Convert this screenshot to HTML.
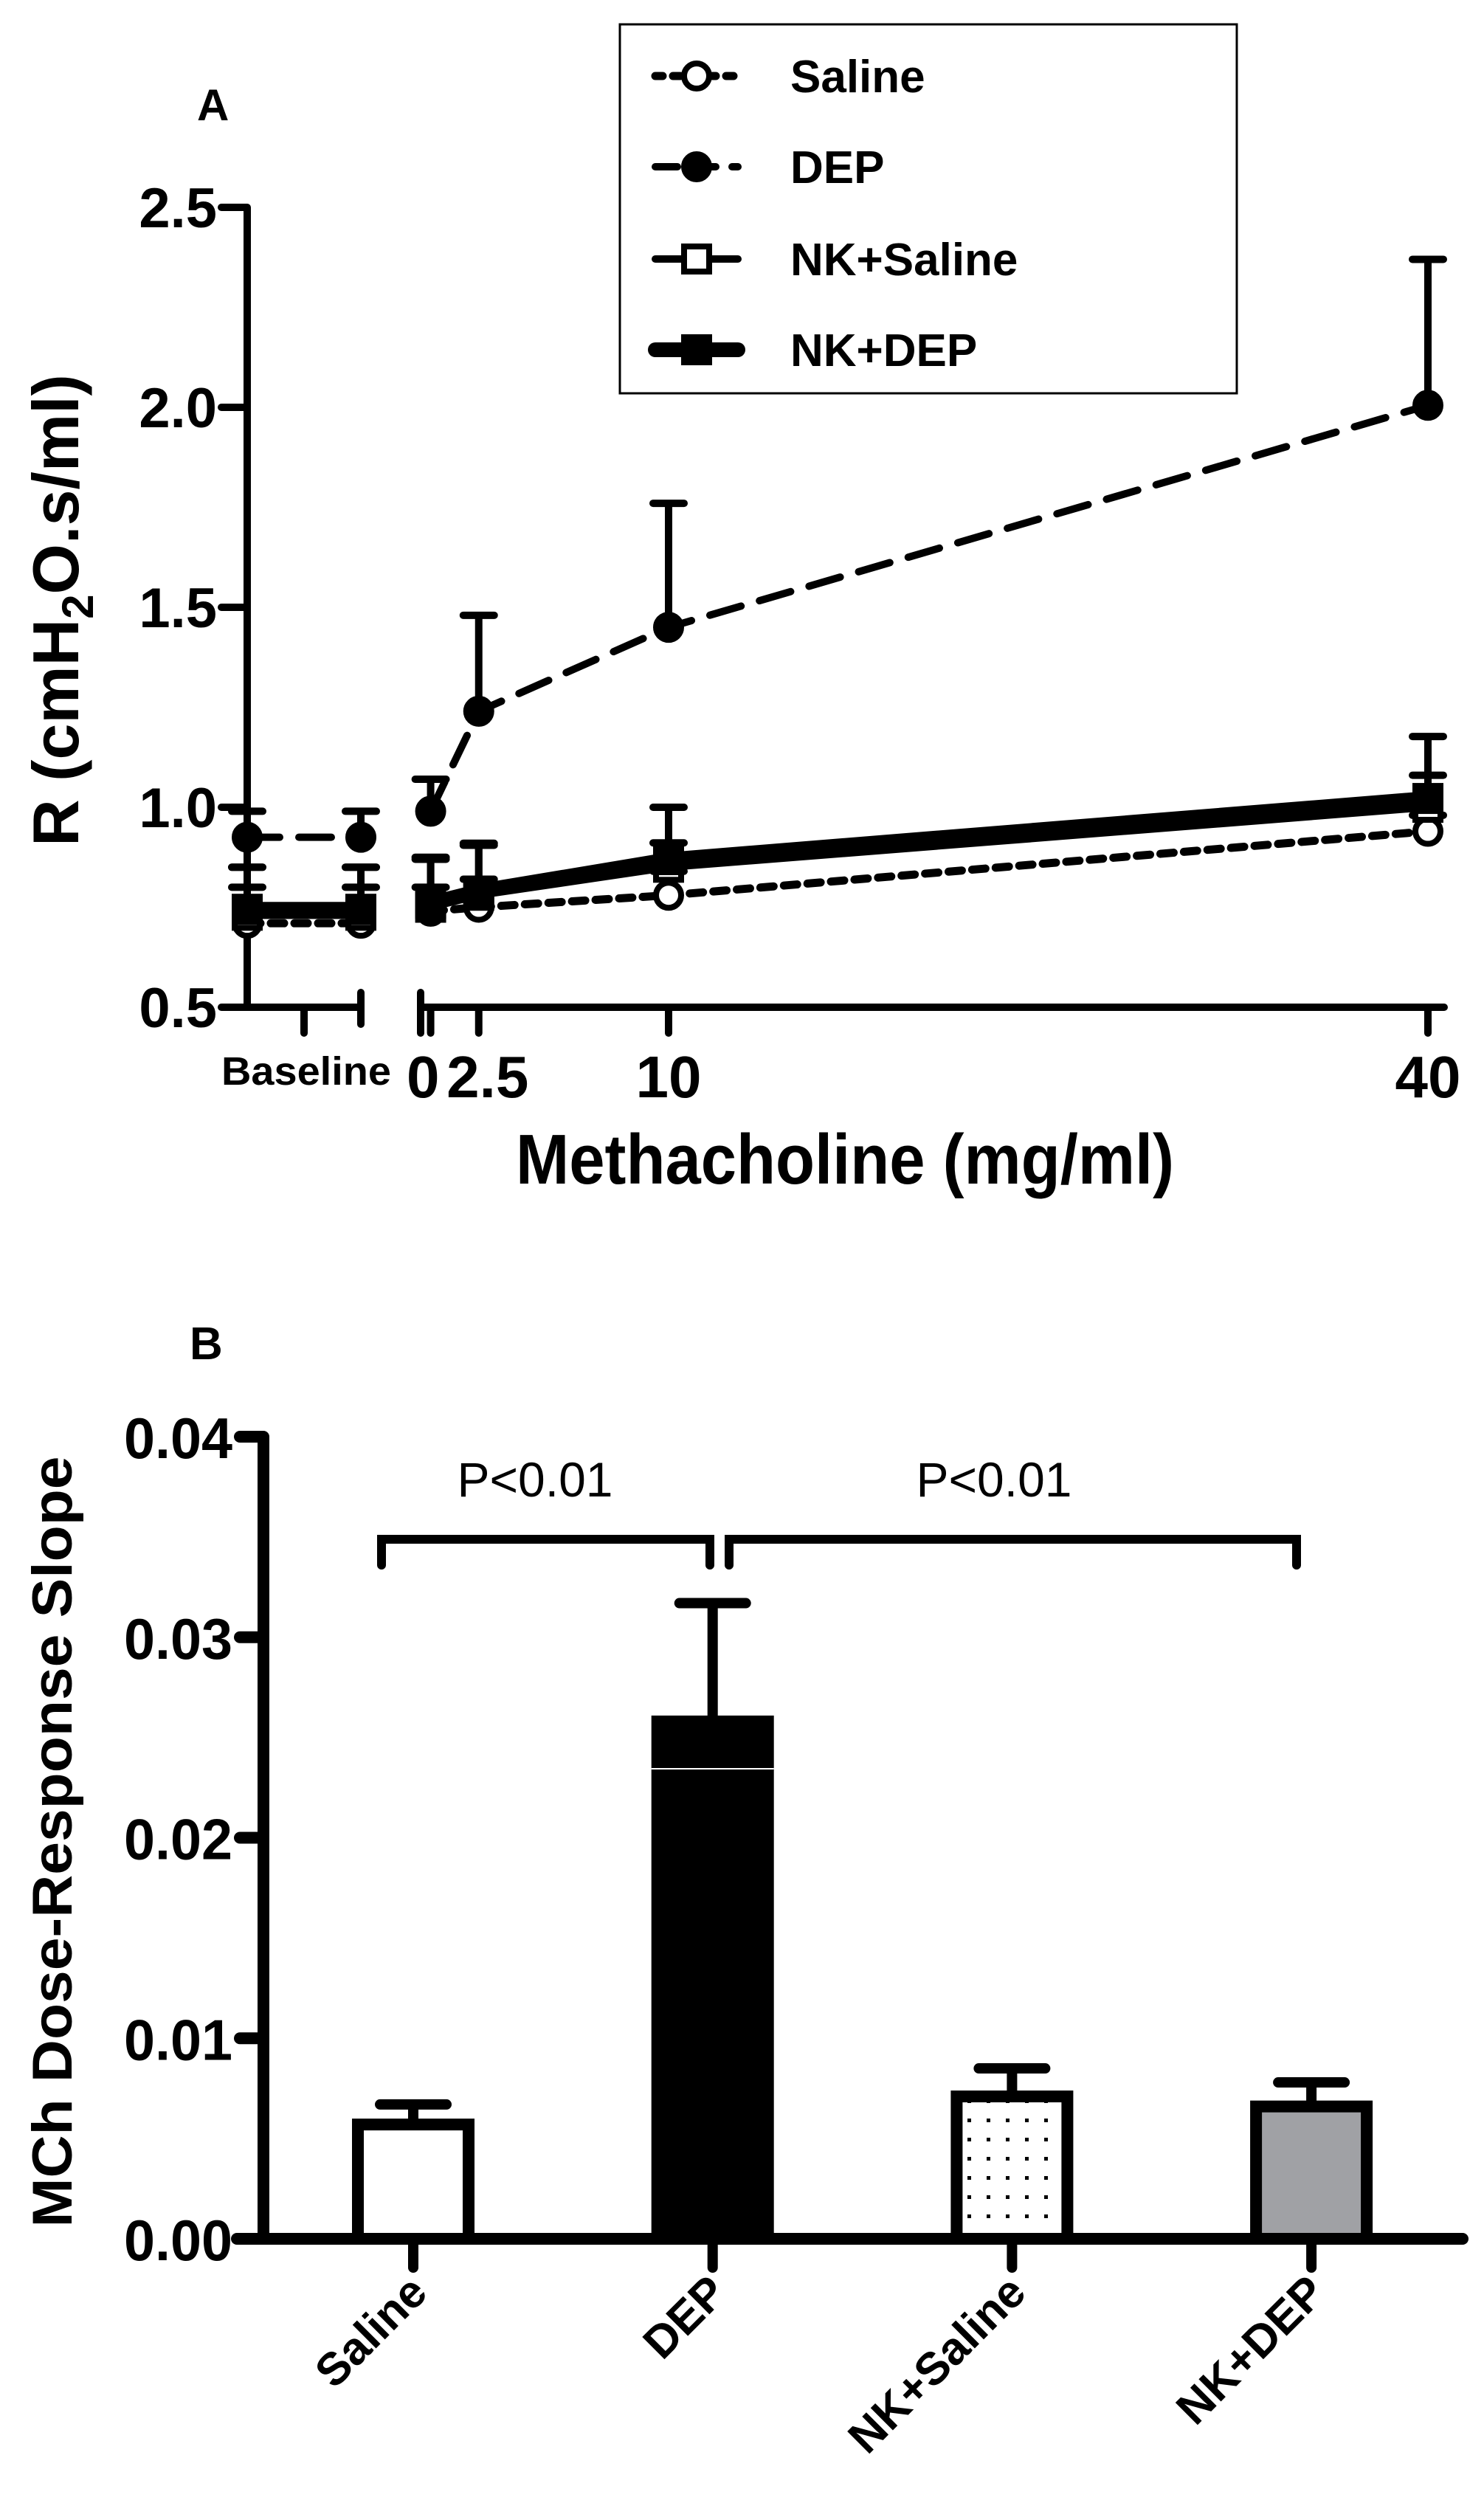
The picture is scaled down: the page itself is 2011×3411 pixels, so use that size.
<!DOCTYPE html>
<html><head><meta charset="utf-8">
<style>
html,body{margin:0;padding:0;background:#fff;}
svg{display:block;font-family:"Liberation Sans",Arial,sans-serif;}
</style></head>
<body>
<svg id="fig" width="2011" height="3411" viewBox="0 0 2011 3411" xmlns="http://www.w3.org/2000/svg">
<defs>
<pattern id="dots" width="26" height="26" patternUnits="userSpaceOnUse">
<rect width="26" height="26" fill="#fff"/><rect x="11" y="11" width="5" height="5" fill="#000"/>
</pattern>
</defs>
<g id="panelA"></g>
<g id="panelB"></g>
</svg>
<script>
// ---------- Panel A data ----------
const doses = [0.6, 2.5, 10, 40];
const doseTickLabels = ["0", "2.5", "10", "40"];
const yTicksA = [0.5, 1.0, 1.5, 2.0, 2.5];
const seriesNames = ["Saline", "DEP", "NK+Saline", "NK+DEP"];
const salineBase = [0.71, 0.71];
const salineVals = [0.74, 0.75, 0.78, 0.94];
const salineErr  = [0.85, 0.85, 0.80, 0.82, 0.84, 0.98];
const depBase = [0.925, 0.925];
const depVals = [0.99, 1.24, 1.45, 2.005];
const depErr  = [0.99, 0.99, 1.07, 1.48, 1.76, 2.37];
const nksBase = [0.73, 0.73];
const nksVals = [0.75, 0.78, 0.85, 1.00];
const nksErr  = [0.85, 0.85, 0.87, 0.905, 1.0, 1.08];
const nkdBase = [0.745, 0.745];
const nkdVals = [0.76, 0.79, 0.869, 1.022];
const nkdErr  = [0.80, 0.80, 0.875, 0.91, 0.911, 1.177];

// ---------- Panel B data ----------
const groups = ["Saline", "DEP", "NK+Saline", "NK+DEP"];
const slopes = [0.0057, 0.0258, 0.0071, 0.0066];
const slopeErr = [0.0067, 0.0317, 0.0085, 0.0078];
const yTicksB = [0.00, 0.01, 0.02, 0.03, 0.04];
const yTickLabelsB = ["0.00", "0.01", "0.02", "0.03", "0.04"];
const pLabels = ["P<0.01", "P<0.01"];

const NS = "http://www.w3.org/2000/svg";
function mk(parent, tag, attrs, text) {
  const e = document.createElementNS(NS, tag);
  for (const k in attrs) e.setAttribute(k, attrs[k]);
  if (text !== undefined) e.textContent = text;
  parent.appendChild(e);
  return e;
}

// ===== Panel A =====
const A = document.getElementById("panelA");
const yA = v => 281 + (2.5 - v) * 542;
const xA = d => 906 + (d - 10) * (1935 - 906) / 30;
const baseX = [335, 489];

let el;
el = mk(A, "text", {x: 267, y: 163, "font-size": 60, "font-weight": "bold"}, "A");



// axes
el = mk(A, "line", {x1: 335, y1: 281, x2: 335, y2: 1365, stroke: "#000", "stroke-width": 10});


el = mk(A, "line", {x1: 335, y1: 1365, x2: 489, y2: 1365, stroke: "#000", "stroke-width": 10, "stroke-linecap": "round"});


el = mk(A, "line", {x1: 570, y1: 1365, x2: 1957, y2: 1365, stroke: "#000", "stroke-width": 10, "stroke-linecap": "round"});


// break ticks
[[489,1345,1388],[412,1365,1400],[570,1345,1400],[335,1365,1365]].forEach(t => {
  const l = mk(A, "line", {x1: t[0], y1: t[1], x2: t[0], y2: t[2], stroke: "#000", "stroke-width": 10, "stroke-linecap": "round"});
  
  
});
doses.forEach((d, i) => {
  const l = mk(A, "line", {x1: xA(d), y1: 1365, x2: xA(d), y2: 1400, stroke: "#000", "stroke-width": 10, "stroke-linecap": "round"});
  
  
});
// y ticks
yTicksA.forEach(v => {
  const l = mk(A, "line", {x1: 300, y1: yA(v), x2: 335, y2: yA(v), stroke: "#000", "stroke-width": 10, "stroke-linecap": "round"});
  
  
  const t = mk(A, "text", {x: 294, y: yA(v) + 27, "font-size": 76, "font-weight": "bold", "text-anchor": "end"}, v.toFixed(1));
  
  
});
// x tick labels
el = mk(A, "text", {x: 300, y: 1470, "font-size": 54, "font-weight": "bold", textLength: 230, lengthAdjust: "spacingAndGlyphs"}, "Baseline");


el = mk(A, "text", {x: 551, y: 1487, "font-size": 80, "font-weight": "bold"}, doseTickLabels[0]);


[1, 2, 3].forEach(i => {
  const t = mk(A, "text", {x: xA(doses[i]) + (i === 1 ? 12 : 0), y: 1487, "font-size": 80, "font-weight": "bold", "text-anchor": "middle"}, doseTickLabels[i]);
  
  
});
el = mk(A, "text", {x: 699, y: 1604, "font-size": 96, "font-weight": "bold", textLength: 892, lengthAdjust: "spacingAndGlyphs"}, "Methacholine (mg/ml)");


el = mk(A, "text", {x: 0, y: 0, "font-size": 88, "font-weight": "bold", "text-anchor": "middle", transform: "translate(106,827) rotate(-90)"});


el.innerHTML = 'R (cmH<tspan font-size="60" dy="20">2</tspan><tspan dy="-20">O.s/ml)</tspan>';

// series
const styles = [
  {name: "saline", base: salineBase, vals: salineVals, err: salineErr, w: 11, dash: "18 14", marker: "circle", fill: "#fff"},
  {name: "dep", base: depBase, vals: depVals, err: depErr, w: 10, dash: "44 26", marker: "circle", fill: "#000"},
  {name: "nk-saline", base: nksBase, vals: nksVals, err: nksErr, w: 10, dash: "", marker: "square", fill: "#fff"},
  {name: "nk-dep", base: nkdBase, vals: nkdVals, err: nkdErr, w: 20, dash: "", marker: "square", fill: "#000"}
];
function errBar(g, x, v, e, nm) {
  const l = mk(g, "path", {d: `M${x},${yA(v)}V${yA(e)}M${x-21},${yA(e)}H${x+21}`, stroke: "#000", "stroke-width": 10, fill: "none", "stroke-linecap": "round"});
  
  
}
function marker(g, s, x, y) {
  let m;
  if (s.marker === "circle") m = mk(g, "circle", {cx: x, cy: y, r: 17, fill: s.fill, stroke: "#000", "stroke-width": 8});
  else m = mk(g, "rect", {x: x - 17, y: y - 17, width: 34, height: 34, fill: s.fill, stroke: "#000", "stroke-width": 8});
  
  
}
styles.forEach(s => {
  const g = mk(A, "g", {});
  
  
  s.base.forEach((v, i) => errBar(g, baseX[i], v, s.err[i], s.name));
  s.vals.forEach((v, i) => errBar(g, xA(doses[i]), v, s.err[i + 2], s.name));
  const attrs = {stroke: "#000", "stroke-width": s.w, fill: "none", "stroke-linecap": "round"};
  if (s.dash) attrs["stroke-dasharray"] = s.dash;
  const bl = mk(g, "polyline", Object.assign({points: s.base.map((v, i) => baseX[i] + "," + yA(v)).join(" ")}, attrs));
  
  
  const dl = mk(g, "polyline", Object.assign({points: s.vals.map((v, i) => xA(doses[i]) + "," + yA(v)).join(" ")}, attrs));
  
  
  s.base.forEach((v, i) => marker(g, s, baseX[i], yA(v)));
  s.vals.forEach((v, i) => marker(g, s, xA(doses[i]), yA(v)));
});

// legend
const lg = mk(A, "g", {});


el = mk(lg, "rect", {x: 840, y: 33, width: 836, height: 500, fill: "#fff", stroke: "#000", "stroke-width": 3});


const legY = [103, 226, 351, 474];
styles.forEach((s, i) => {
  const attrs = {x1: 888, y1: legY[i], x2: 1000, y2: legY[i], stroke: "#000", "stroke-width": s.w, "stroke-linecap": "round"};
  if (s.dash) attrs["stroke-dasharray"] = s.dash === "18 14" ? "10 14" : "30 22";
  const l = mk(lg, "line", attrs);
  
  
  marker(lg, s, 944, legY[i]);
  const t = mk(lg, "text", {x: 1071, y: legY[i] + 22, "font-size": 62, "font-weight": "bold"}, seriesNames[i]);
  
  
});

// ===== Panel B =====
const B = document.getElementById("panelB");
const yB = v => 3034 - v * 27175;
const xB = i => 560 + i * 405.7;
const barW = 150;

el = mk(B, "text", {x: 257, y: 1842, "font-size": 62, "font-weight": "bold"}, "B");



const fills = ["#fff", "#000", "url(#dots)", "#a0a1a5"];
groups.forEach((g, i) => {
  const x = xB(i);
  const e = mk(B, "path", {d: `M${x},${yB(slopes[i])}V${yB(slopeErr[i])}M${x-45},${yB(slopeErr[i])}H${x+45}`, stroke: "#000", "stroke-width": 14, fill: "none", "stroke-linecap": "round"});
  
  
  const r = mk(B, "rect", {x: x - barW / 2, y: yB(slopes[i]), width: barW, height: yB(0) - yB(slopes[i]), fill: fills[i], stroke: "#000", "stroke-width": 16});
  
  
  const t = mk(B, "line", {x1: x, y1: 3034, x2: x, y2: 3073, stroke: "#000", "stroke-width": 14, "stroke-linecap": "round"});
  
  
  const lab = mk(B, "text", {x: 0, y: 0, "font-size": 62, "font-weight": "bold", "text-anchor": "end", transform: `translate(${x + 22},${3110}) rotate(-45)`}, g);
  
  
});
// white seam line in DEP bar
el = mk(B, "line", {x1: xB(1) - barW / 2 - 8, y1: 2397, x2: xB(1) + barW / 2 + 8, y2: 2397, stroke: "#fff", "stroke-width": 2});



el = mk(B, "line", {x1: 357, y1: 1947, x2: 357, y2: 3034, stroke: "#000", "stroke-width": 16});


el = mk(B, "line", {x1: 321, y1: 3034, x2: 1982, y2: 3034, stroke: "#000", "stroke-width": 16, "stroke-linecap": "round"});


yTicksB.forEach((v, i) => {
  const l = mk(B, "line", {x1: 325, y1: yB(v), x2: 357, y2: yB(v), stroke: "#000", "stroke-width": 16, "stroke-linecap": "round"});
  
  
  const t = mk(B, "text", {x: 315, y: yB(v) + 29, "font-size": 78, "font-weight": "bold", "text-anchor": "end", textLength: 147, lengthAdjust: "spacingAndGlyphs"}, yTickLabelsB[i]);
  
  
});
el = mk(B, "text", {x: 0, y: 0, "font-size": 76, "font-weight": "bold", "text-anchor": "middle", textLength: 1045, lengthAdjust: "spacingAndGlyphs", transform: "translate(97,2496) rotate(-90)"}, "MCh Dose-Response Slope");



// significance brackets
const br = [[517, 962, 725], [988, 1757, 1347]];
br.forEach((b, i) => {
  const p = mk(B, "path", {d: `M${b[0]},2121V2086H${b[1]}V2121`, stroke: "#000", "stroke-width": 12, fill: "none", "stroke-linecap": "round"});
  
  
  const t = mk(B, "text", {x: b[2], y: 2028, "font-size": 66, "text-anchor": "middle"}, pLabels[i]);
  
  
});
</script>
</body></html>
